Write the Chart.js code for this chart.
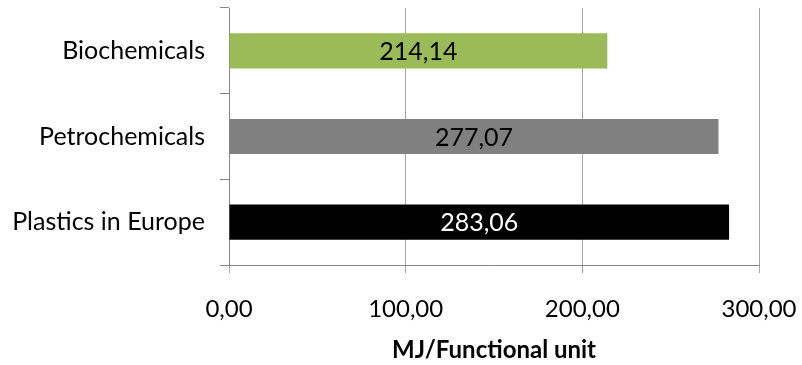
<!DOCTYPE html>
<html>
<head>
<meta charset="utf-8">
<script src="https://cdn.jsdelivr.net/npm/chart.js@4"></script>
<style>
  html, body { margin: 0; padding: 0; background: #fff; }
  #wrap { width: 802px; height: 365px; }
</style>
</head>
<body>
<div id="wrap"><canvas id="c" width="802" height="365"></canvas></div>
<script>
const categories = ['Biochemicals', 'Petrochemicals', 'Plastics in Europe'];
const energyValues = [214.14, 277.07, 283.06];
const barColors = ['#9BBB59', '#808080', '#000000'];
const labelColors = ['#000000', '#000000', '#ffffff'];
const xTicks = [0, 100, 200, 300];
const axisTitle = 'MJ/Functional unit';

const fmt = v => v.toFixed(2).replace('.', ',');
const FONT = 'Lato, "Open Sans", sans-serif';

// Writes each bar's value in the middle of the bar
const valueLabels = {
  id: 'valueLabels',
  afterDatasetsDraw(chart) {
    const ctx = chart.ctx;
    const meta = chart.getDatasetMeta(0);
    ctx.save();
    ctx.font = '25px ' + FONT;
    ctx.textAlign = 'center';
    ctx.textBaseline = 'middle';
    meta.data.forEach((bar, i) => {
      const cx = (bar.base + bar.x) / 2;
      ctx.fillStyle = labelColors[i];
      ctx.fillText(fmt(energyValues[i]), cx, bar.y + 1);
    });
    ctx.restore();
  }
};

new Chart(document.getElementById('c'), {
  type: 'bar',
  data: {
    labels: categories,
    datasets: [{
      data: energyValues,
      backgroundColor: barColors,
      barPercentage: 0.41,
      categoryPercentage: 1.0
    }]
  },
  plugins: [valueLabels],
  options: {
    indexAxis: 'y',
    responsive: false,
    animation: false,
    layout: { padding: { top: 8, right: 43, left: 0, bottom: 0 } },
    plugins: { legend: { display: false }, tooltip: { enabled: false } },
    scales: {
      x: {
        min: 0, max: 300,
        afterBuildTicks(scale) { scale.ticks = xTicks.map(v => ({ value: v })); },
        afterFit(scale) {
          scale.height = 100;
          scale.paddingLeft = 0; scale.paddingRight = 0;
        },
        grid: { color: '#a6a6a6', lineWidth: 1, tickLength: 8, drawTicks: true },
        border: { color: '#868686', width: 1 },
        ticks: {
          color: '#000', padding: 22,
          font: { family: FONT, size: 24 },
          callback: v => fmt(v)
        },
        title: {
          display: true, text: axisTitle, color: '#000',
          font: { family: FONT, size: 24, weight: 'bold' },
          padding: { top: 4, bottom: 0 }
        }
      },
      y: {
        afterFit(scale) {
          scale.width = 229;
          scale.paddingTop = 0; scale.paddingBottom = 0;
        },
        grid: { drawOnChartArea: false, color: '#868686', tickLength: 9, offset: true },
        border: { color: '#868686', width: 1 },
        ticks: {
          color: '#000', padding: 15,
          font: { family: FONT, size: 25 }
        }
      }
    }
  }
});
</script>
</body>
</html>
